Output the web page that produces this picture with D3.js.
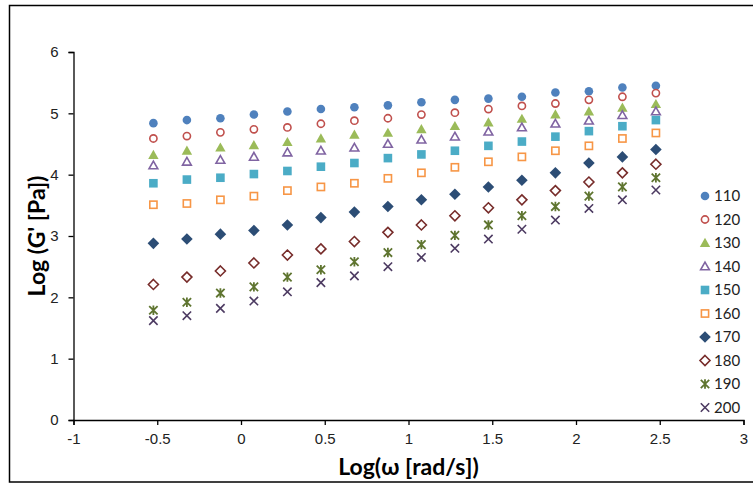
<!DOCTYPE html>
<html>
<head>
<meta charset="utf-8">
<script src="https://cdn.jsdelivr.net/npm/d3@7"></script>
<style>
  body { margin: 0; background: #fff; }
  svg { font-family: Lato, "Open Sans", sans-serif; }
</style>
</head>
<body>
<div id="chart"></div>
<script>
// log(omega) values shared by every temperature
const logOmega = [-0.523, -0.323, -0.123, 0.077, 0.277, 0.477, 0.677, 0.877,
                  1.077, 1.277, 1.477, 1.677, 1.877, 2.077, 2.277, 2.477];

const temps = ["110", "120", "130", "140", "150", "160", "170", "180", "190", "200"];

const g110 = [4.84, 4.89, 4.92, 4.98, 5.03, 5.07, 5.10, 5.13, 5.18, 5.22, 5.24, 5.27, 5.34, 5.36, 5.42, 5.45];
const g120 = [4.59, 4.63, 4.69, 4.74, 4.77, 4.83, 4.88, 4.92, 4.98, 5.01, 5.07, 5.12, 5.16, 5.22, 5.27, 5.33];
const g130 = [4.32, 4.39, 4.44, 4.48, 4.53, 4.59, 4.65, 4.68, 4.74, 4.79, 4.85, 4.91, 4.98, 5.03, 5.09, 5.15];
const g140 = [4.15, 4.21, 4.24, 4.29, 4.36, 4.39, 4.44, 4.50, 4.57, 4.62, 4.70, 4.77, 4.83, 4.88, 4.97, 5.03];
const g150 = [3.86, 3.92, 3.95, 4.01, 4.06, 4.13, 4.19, 4.27, 4.33, 4.39, 4.47, 4.54, 4.62, 4.71, 4.79, 4.89];
const g160 = [3.51, 3.53, 3.59, 3.65, 3.74, 3.80, 3.86, 3.94, 4.03, 4.12, 4.21, 4.29, 4.39, 4.47, 4.59, 4.68];
const g170 = [2.88, 2.95, 3.03, 3.09, 3.18, 3.30, 3.39, 3.48, 3.59, 3.68, 3.80, 3.91, 4.03, 4.19, 4.29, 4.41];
const g180 = [2.21, 2.33, 2.43, 2.56, 2.69, 2.79, 2.91, 3.06, 3.18, 3.33, 3.46, 3.59, 3.74, 3.88, 4.03, 4.17];
const g190 = [1.79, 1.92, 2.07, 2.17, 2.33, 2.45, 2.58, 2.73, 2.86, 3.01, 3.18, 3.33, 3.48, 3.65, 3.80, 3.95];
const g200 = [1.62, 1.70, 1.82, 1.94, 2.09, 2.24, 2.35, 2.50, 2.65, 2.80, 2.95, 3.11, 3.26, 3.45, 3.59, 3.75];

const xTicks = [-1, -0.5, 0, 0.5, 1, 1.5, 2, 2.5, 3];
const yTicks = [0, 1, 2, 3, 4, 5, 6];

const seriesValues = [g110, g120, g130, g140, g150, g160, g170, g180, g190, g200];

// marker styling per series (Excel 2007 palette)
const styles = [
  { shape: "circle",   color: "#4F81BD", fill: true },
  { shape: "circle",   color: "#C0504D", fill: false },
  { shape: "triangle", color: "#9BBB59", fill: true },
  { shape: "triangle", color: "#8064A2", fill: false },
  { shape: "square",   color: "#4BACC6", fill: true },
  { shape: "square",   color: "#F79646", fill: false },
  { shape: "diamond",  color: "#2C4D75", fill: true },
  { shape: "diamond",  color: "#772C2A", fill: false },
  { shape: "star",     color: "#5F7530", fill: false },
  { shape: "cross",    color: "#4D3B62", fill: false }
];

const W = 753, H = 484;
const margin = { left: 73.5, right: 9.5, top: 52, bottom: 64 };

const svg = d3.select("#chart").append("svg")
  .attr("width", W).attr("height", H);

// outer chart border
svg.append("rect")
  .attr("x", 9.5).attr("y", 5.5)
  .attr("width", 800).attr("height", 476.5)
  .attr("fill", "none").attr("stroke", "#000").attr("stroke-width", 1.5);

const x = d3.scaleLinear().domain([-1, 3]).range([margin.left, W - margin.right]);
const y = d3.scaleLinear().domain([0, 6]).range([H - margin.bottom, margin.top]);

const fmt = d => String(d); // plain hyphen minus, no trailing zeros

// axes
const xAxis = svg.append("g")
  .attr("transform", `translate(0,${y(0)})`)
  .call(d3.axisBottom(x).tickValues(xTicks).tickSize(5).tickPadding(8).tickFormat(fmt));
const yAxis = svg.append("g")
  .attr("transform", `translate(${x(-1)},0)`)
  .call(d3.axisLeft(y).tickValues(yTicks).tickSize(5).tickPadding(10).tickFormat(fmt));

[xAxis, yAxis].forEach(a => {
  a.select(".domain").attr("stroke", "#000").attr("stroke-width", 1.3);
  a.selectAll(".tick line").attr("stroke", "#000").attr("stroke-width", 1.3);
  a.selectAll(".tick text").attr("fill", "#222").style("font-size", "15px");
});

// axis titles
svg.append("text")
  .attr("x", (x(-1) + x(3)) / 2).attr("y", 475)
  .attr("text-anchor", "middle")
  .style("font-size", "23px").style("font-weight", "bold")
  .text("Log(ω [rad/s])");

svg.append("text")
  .attr("transform", `translate(45,${y(3)}) rotate(-90)`)
  .attr("text-anchor", "middle")
  .style("font-size", "23px").style("font-weight", "bold")
  .text("Log (G' [Pa])");

// marker drawing
function drawMarker(g, st, cx, cy) {
  const sw = 1.6;
  if (st.shape === "circle") {
    g.append("circle").attr("cx", cx).attr("cy", cy)
      .attr("r", st.fill ? 4.3 : 3.6)
      .attr("fill", st.fill ? st.color : "#fff")
      .attr("stroke", st.color).attr("stroke-width", st.fill ? 0 : sw);
  } else if (st.shape === "triangle") {
    const s = st.fill ? 5.2 : 4.4;
    g.append("path")
      .attr("d", `M${cx},${cy - s}L${cx + s},${cy + s * 0.75}L${cx - s},${cy + s * 0.75}Z`)
      .attr("fill", st.fill ? st.color : "#fff")
      .attr("stroke", st.color).attr("stroke-width", st.fill ? 0 : sw);
  } else if (st.shape === "square") {
    const s = st.fill ? 4.3 : 3.6;
    g.append("rect").attr("x", cx - s).attr("y", cy - s)
      .attr("width", 2 * s).attr("height", 2 * s)
      .attr("fill", st.fill ? st.color : "#fff")
      .attr("stroke", st.color).attr("stroke-width", st.fill ? 0 : sw);
  } else if (st.shape === "diamond") {
    const s = st.fill ? 5.8 : 5;
    g.append("path")
      .attr("d", `M${cx},${cy - s}L${cx + s},${cy}L${cx},${cy + s}L${cx - s},${cy}Z`)
      .attr("fill", st.fill ? st.color : "#fff")
      .attr("stroke", st.color).attr("stroke-width", st.fill ? 0 : sw);
  } else if (st.shape === "star") {
    const s = 4.2;
    g.append("path")
      .attr("d", `M${cx - s},${cy - s}L${cx + s},${cy + s}M${cx - s},${cy + s}L${cx + s},${cy - s}M${cx},${cy - s - 0.5}L${cx},${cy + s + 0.5}`)
      .attr("fill", "none").attr("stroke", st.color).attr("stroke-width", 1.8);
  } else if (st.shape === "cross") {
    const s = 4.2;
    g.append("path")
      .attr("d", `M${cx - s},${cy - s}L${cx + s},${cy + s}M${cx - s},${cy + s}L${cx + s},${cy - s}`)
      .attr("fill", "none").attr("stroke", st.color).attr("stroke-width", 1.6);
  }
}

// data points
const plot = svg.append("g");
seriesValues.forEach((vals, i) => {
  const g = plot.append("g").attr("class", "series-" + temps[i]);
  vals.forEach((v, j) => drawMarker(g, styles[i], x(logOmega[j]), y(v)));
});

// legend
const legend = svg.append("g");
temps.forEach((t, i) => {
  const ly = 196 + i * 23.5;
  drawMarker(legend, styles[i], 705, ly);
  legend.append("text")
    .attr("x", 714).attr("y", ly + 5)
    .style("font-size", "15px").attr("fill", "#222")
    .text(t);
});
</script>
</body>
</html>
